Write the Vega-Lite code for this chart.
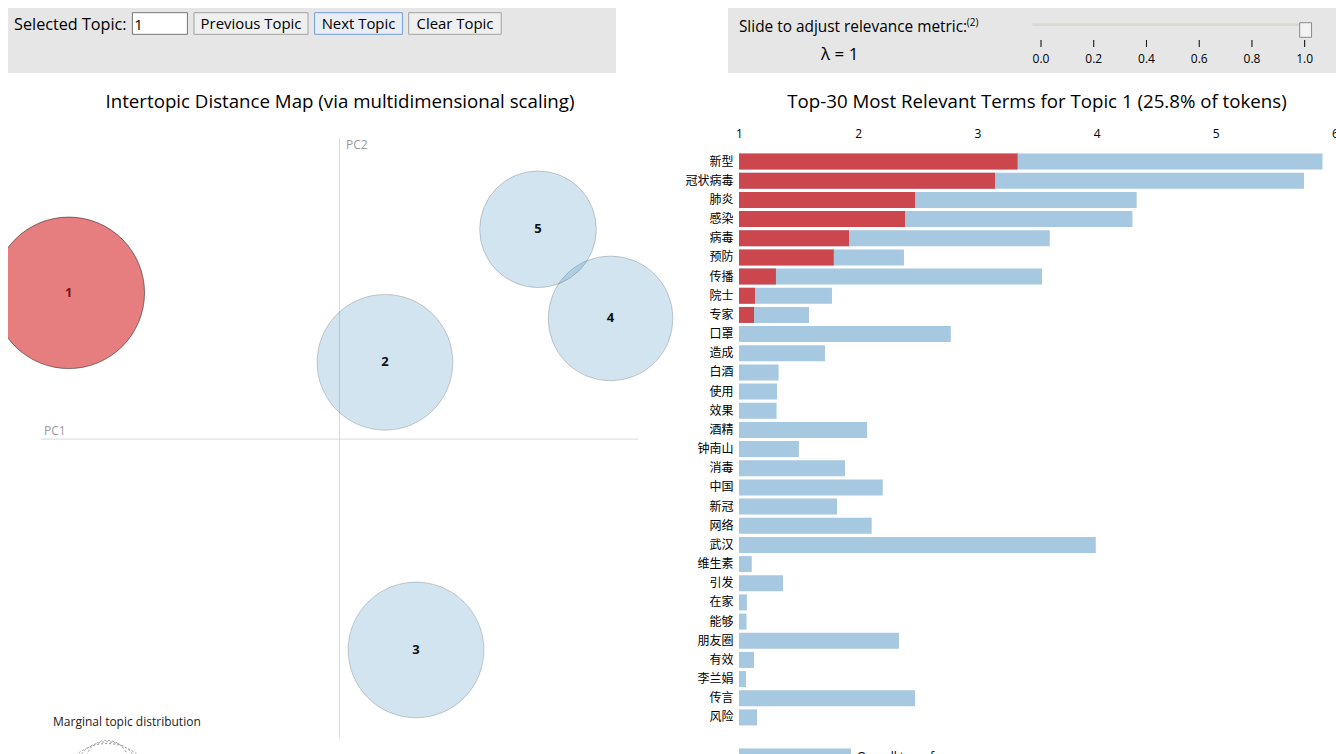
{
  "$schema": "https://vega.github.io/schema/vega-lite/v6.json",
  "padding": {"left": 8, "top": 8, "right": 0, "bottom": 0},
  "background": "white",
  "config": {
    "view": {"stroke": null},
    "font": "Open Sans",
    "title": {"font": "Open Sans", "fontSize": 18.7, "fontWeight": "normal", "color": "#000"}
  },
  "datasets": {
    "topics": [
      {"topic": 1, "x": -0.2721, "y": 0.1470, "freq": 25.8},
      {"topic": 2, "x": 0.0457, "y": 0.0772, "freq": 20.7},
      {"topic": 3, "x": 0.0769, "y": -0.2119, "freq": 20.7},
      {"topic": 4, "x": 0.2724, "y": 0.1213, "freq": 17.5},
      {"topic": 5, "x": 0.1995, "y": 0.2109, "freq": 15.3}
    ],
    "terms": [
      {"term": "新型", "overall": 5.895, "topic": 3.337},
      {"term": "冠状病毒", "overall": 5.740, "topic": 3.148},
      {"term": "肺炎", "overall": 4.336, "topic": 2.477},
      {"term": "感染", "overall": 4.301, "topic": 2.393},
      {"term": "病毒", "overall": 3.607, "topic": 1.923},
      {"term": "预防", "overall": 2.384, "topic": 1.795},
      {"term": "传播", "overall": 3.542, "topic": 1.310},
      {"term": "院士", "overall": 1.780, "topic": 1.134},
      {"term": "专家", "overall": 1.587, "topic": 1.126},
      {"term": "口罩", "overall": 2.777, "topic": null},
      {"term": "造成", "overall": 1.721, "topic": null},
      {"term": "白酒", "overall": 1.332, "topic": null},
      {"term": "使用", "overall": 1.319, "topic": null},
      {"term": "效果", "overall": 1.315, "topic": null},
      {"term": "酒精", "overall": 2.074, "topic": null},
      {"term": "钟南山", "overall": 1.502, "topic": null},
      {"term": "消毒", "overall": 1.889, "topic": null},
      {"term": "中国", "overall": 2.206, "topic": null},
      {"term": "新冠", "overall": 1.822, "topic": null},
      {"term": "网络", "overall": 2.113, "topic": null},
      {"term": "武汉", "overall": 3.993, "topic": null},
      {"term": "维生素", "overall": 1.107, "topic": null},
      {"term": "引发", "overall": 1.369, "topic": null},
      {"term": "在家", "overall": 1.066, "topic": null},
      {"term": "能够", "overall": 1.063, "topic": null},
      {"term": "朋友圈", "overall": 2.342, "topic": null},
      {"term": "有效", "overall": 1.126, "topic": null},
      {"term": "李兰娟", "overall": 1.059, "topic": null},
      {"term": "传言", "overall": 2.477, "topic": null},
      {"term": "风险", "overall": 1.151, "topic": null}
    ]
  },
  "spacing": 20,
  "vconcat": [
    {
      "spacing": 112,
      "hconcat": [
        {
          "width": 608, "height": 65,
          "view": {"fill": "#e6e6e6", "stroke": null},
          "data": {"values": [{"panel": "topic"}]},
          "layer": [
            {"mark": {"type": "rect", "fill": "white", "stroke": "#767676", "strokeWidth": 1},
             "encoding": {
               "x": {"datum": 20.46, "type": "quantitative", "scale": {"domain": [0, 100], "nice": false, "zero": false}, "axis": null},
               "x2": {"datum": 29.51},
               "y": {"datum": 7.2, "type": "quantitative", "scale": {"domain": [0, 100], "reverse": true, "nice": false, "zero": false}, "axis": null},
               "y2": {"datum": 40.5}}},
            {"mark": {"type": "rect", "fill": "#efefef", "stroke": "#a3a3a3", "strokeWidth": 1},
             "encoding": {"x": {"datum": 30.59, "type": "quantitative", "axis": null}, "x2": {"datum": 49.34},
               "y": {"datum": 7.2, "type": "quantitative", "axis": null}, "y2": {"datum": 40.5}}},
            {"mark": {"type": "rect", "fill": "#e9eef5", "stroke": "#6f9fdc", "strokeWidth": 1},
             "encoding": {"x": {"datum": 50.43, "type": "quantitative", "axis": null}, "x2": {"datum": 64.87},
               "y": {"datum": 7.2, "type": "quantitative", "axis": null}, "y2": {"datum": 40.5}}},
            {"mark": {"type": "rect", "fill": "#efefef", "stroke": "#a3a3a3", "strokeWidth": 1},
             "encoding": {"x": {"datum": 65.90, "type": "quantitative", "axis": null}, "x2": {"datum": 81.12},
               "y": {"datum": 7.2, "type": "quantitative", "axis": null}, "y2": {"datum": 40.5}}},
            {"mark": {"type": "text", "align": "left", "baseline": "middle", "fontSize": 16.2, "color": "#000"},
             "encoding": {"x": {"datum": 1.0, "type": "quantitative", "axis": null}, "y": {"datum": 25.5, "type": "quantitative", "axis": null}, "text": {"value": "Selected Topic:"}}},
            {"mark": {"type": "text", "align": "left", "baseline": "middle", "fontSize": 15, "color": "#000"},
             "encoding": {"x": {"datum": 20.75, "type": "quantitative", "axis": null}, "y": {"datum": 25.5, "type": "quantitative", "axis": null}, "text": {"value": "1"}}},
            {"mark": {"type": "text", "align": "center", "baseline": "middle", "fontSize": 14.9, "color": "#000"},
             "encoding": {"x": {"datum": 39.97, "type": "quantitative", "axis": null}, "y": {"datum": 25.5, "type": "quantitative", "axis": null}, "text": {"value": "Previous Topic"}}},
            {"mark": {"type": "text", "align": "center", "baseline": "middle", "fontSize": 14.9, "color": "#000"},
             "encoding": {"x": {"datum": 57.65, "type": "quantitative", "axis": null}, "y": {"datum": 25.5, "type": "quantitative", "axis": null}, "text": {"value": "Next Topic"}}},
            {"mark": {"type": "text", "align": "center", "baseline": "middle", "fontSize": 14.9, "color": "#000"},
             "encoding": {"x": {"datum": 73.51, "type": "quantitative", "axis": null}, "y": {"datum": 25.5, "type": "quantitative", "axis": null}, "text": {"value": "Clear Topic"}}}
          ]
        },
        {
          "width": 608, "height": 65,
          "view": {"fill": "#e6e6e6", "stroke": null},
          "layer": [
            {"data": {"values": [{"lambda": 1}]},
             "mark": {"type": "rect", "fill": "#dbd7d3"},
             "encoding": {
               "x": {"datum": -0.0326, "type": "quantitative", "scale": {"domain": [-1.1870, 1.1187], "nice": false, "zero": false}, "axis": null},
               "x2": {"datum": 1.024},
               "y": {"datum": 23.5, "type": "quantitative", "scale": {"domain": [0, 100], "reverse": true, "nice": false, "zero": false}, "axis": null},
               "y2": {"datum": 27.7}}},
            {"data": {"values": [{"lambda": 1}]},
             "mark": {"type": "rect", "fill": "#f2f2f2", "stroke": "#8a8a8a", "strokeWidth": 1},
             "encoding": {
               "x": {"field": "lambda", "type": "quantitative", "axis": null},
               "xOffset": {"value": -5},
               "x2": {"datum": 1.026},
               "y": {"datum": 22.6, "type": "quantitative", "axis": null},
               "y2": {"datum": 45.1}}},
            {"data": {"values": [{"v": 0}, {"v": 0.2}, {"v": 0.4}, {"v": 0.6}, {"v": 0.8}, {"v": 1.0}]},
             "mark": {"type": "rule", "color": "#000", "strokeWidth": 1},
             "encoding": {
               "x": {"field": "v", "type": "quantitative", "axis": null},
               "y": {"datum": 49.2, "type": "quantitative", "axis": null},
               "y2": {"datum": 60}}},
            {"data": {"values": [{"v": 0}, {"v": 0.2}, {"v": 0.4}, {"v": 0.6}, {"v": 0.8}, {"v": 1.0}]},
             "mark": {"type": "text", "align": "center", "baseline": "middle", "fontSize": 12, "color": "#000"},
             "encoding": {
               "x": {"field": "v", "type": "quantitative", "axis": null},
               "y": {"datum": 79, "type": "quantitative", "axis": null},
               "text": {"field": "v", "type": "quantitative", "format": ".1f"}}},
            {"data": {"values": [{"lambda": 1}]},
             "mark": {"type": "text", "align": "left", "baseline": "middle", "fontSize": 15.4, "color": "#000"},
             "encoding": {"x": {"datum": -1.1456, "type": "quantitative", "axis": null}, "y": {"datum": 28.5, "type": "quantitative", "axis": null}, "text": {"value": "Slide to adjust relevance metric:"}}},
            {"data": {"values": [{"lambda": 1}]},
             "mark": {"type": "text", "align": "left", "baseline": "middle", "fontSize": 10, "color": "#000"},
             "encoding": {"x": {"datum": -0.2814, "type": "quantitative", "axis": null}, "y": {"datum": 23.1, "type": "quantitative", "axis": null}, "text": {"value": "(2)"}}},
            {"data": {"values": [{"lambda": 1}]},
             "mark": {"type": "text", "align": "left", "baseline": "middle", "fontSize": 17, "color": "#000"},
             "encoding": {"x": {"datum": -0.8343, "type": "quantitative", "axis": null}, "y": {"datum": 72.3, "type": "quantitative", "axis": null}, "text": {"value": "λ = 1"}}}
          ]
        }
      ]
    },
    {
      "spacing": 0,
      "resolve": {"scale": {"color": "independent", "size": "independent"}, "legend": {"color": "independent", "size": "independent"}},
      "hconcat": [
        {
          "width": 676, "height": 620,
          "title": {"text": "Intertopic Distance Map (via multidimensional scaling)", "dx": -6, "offset": 26},
          "layer": [
            {"data": {"values": [{"axis": "PC1"}]},
             "mark": {"type": "rule", "color": "#d9d9d9", "strokeWidth": 1},
             "encoding": {
               "x": {"datum": -0.3, "type": "quantitative", "scale": {"domain": [-0.33317, 0.34623], "nice": false, "zero": false}, "axis": null},
               "x2": {"datum": 0.3},
               "y": {"datum": 0, "type": "quantitative", "scale": {"domain": [-0.33457, 0.28855], "nice": false, "zero": false}, "axis": null}}},
            {"data": {"values": [{"axis": "PC2"}]},
             "mark": {"type": "rule", "color": "#d9d9d9", "strokeWidth": 1},
             "encoding": {
               "x": {"datum": 0, "type": "quantitative", "axis": null},
               "y": {"datum": 0.302, "type": "quantitative", "axis": null},
               "y2": {"datum": -0.3}}},
            {"data": {"values": [{"axis": "PC1"}]},
             "mark": {"type": "text", "align": "left", "baseline": "middle", "fontSize": 12, "color": "#999"},
             "encoding": {"x": {"datum": -0.297, "type": "quantitative", "axis": null}, "y": {"datum": 0.0085, "type": "quantitative", "axis": null}, "text": {"field": "axis"}}},
            {"data": {"values": [{"axis": "PC2"}]},
             "mark": {"type": "text", "align": "left", "baseline": "middle", "fontSize": 12, "color": "#999"},
             "encoding": {"x": {"datum": 0.0065, "type": "quantitative", "axis": null}, "y": {"datum": 0.296, "type": "quantitative", "axis": null}, "text": {"field": "axis"}}},
            {"data": {"name": "topics"},
             "mark": {"type": "point", "shape": "circle", "filled": true, "opacity": 1, "stroke": "#000", "strokeWidth": 1, "clip": true},
             "encoding": {
               "x": {"field": "x", "type": "quantitative", "axis": null},
               "y": {"field": "y", "type": "quantitative", "axis": null},
               "size": {"field": "freq", "type": "quantitative", "scale": {"type": "linear", "domain": [0, 100], "range": [0, 89013], "zero": true}, "legend": null},
               "fill": {"condition": {"test": "datum.topic === 1", "value": "#d62728"}, "value": "#1f77b4"},
               "fillOpacity": {"condition": {"test": "datum.topic === 1", "value": 0.6}, "value": 0.2},
               "strokeOpacity": {"condition": {"test": "datum.topic === 1", "value": 0.45}, "value": 0.18}}},
            {"data": {"name": "topics"},
             "mark": {"type": "text", "fontSize": 13, "fontWeight": "bold", "baseline": "middle", "align": "center"},
             "encoding": {
               "x": {"field": "x", "type": "quantitative", "axis": null},
               "y": {"field": "y", "type": "quantitative", "axis": null},
               "text": {"field": "topic"},
               "color": {"condition": {"test": "datum.topic === 1", "value": "#7d1515"}, "value": "#111"}}},
            {"data": {"values": [{"label": "Marginal topic distribution"}]},
             "mark": {"type": "text", "align": "left", "baseline": "middle", "fontSize": 12, "color": "#222"},
             "encoding": {"x": {"datum": -0.2879, "type": "quantitative", "axis": null}, "y": {"datum": -0.2839, "type": "quantitative", "axis": null}, "text": {"field": "label"}}},
            {"data": {"values": [{"pct": 2}]},
             "mark": {"type": "point", "shape": "circle", "filled": false, "opacity": 1, "stroke": "#999", "strokeWidth": 1, "strokeDash": [2, 2], "clip": true},
             "encoding": {"x": {"datum": -0.2337, "type": "quantitative", "axis": null}, "y": {"datum": -0.3239, "type": "quantitative", "axis": null},
               "size": {"field": "pct", "type": "quantitative", "legend": null}}},
            {"data": {"values": [{"pct": 5}]},
             "mark": {"type": "point", "shape": "circle", "filled": false, "opacity": 1, "stroke": "#999", "strokeWidth": 1, "strokeDash": [2, 2], "clip": true},
             "encoding": {"x": {"datum": -0.2337, "type": "quantitative", "axis": null}, "y": {"datum": -0.3378, "type": "quantitative", "axis": null},
               "size": {"field": "pct", "type": "quantitative", "legend": null}}},
            {"data": {"values": [{"pct": 10}]},
             "mark": {"type": "point", "shape": "circle", "filled": false, "opacity": 1, "stroke": "#999", "strokeWidth": 1, "strokeDash": [2, 2], "clip": true},
             "encoding": {"x": {"datum": -0.2337, "type": "quantitative", "axis": null}, "y": {"datum": -0.3534, "type": "quantitative", "axis": null},
               "size": {"field": "pct", "type": "quantitative", "legend": null}}}
          ]
        },
        {
          "width": 596, "height": 575,
          "title": {"text": "Top-30 Most Relevant Terms for Topic 1 (25.8% of tokens)", "offset": 15},
          "data": {"name": "terms"},
          "transform": [{"fold": ["overall", "topic"], "as": ["series", "freq"]}],
          "mark": {"type": "bar"},
          "encoding": {
            "y": {"field": "term", "type": "nominal", "sort": null,
                  "scale": {"paddingInner": 0.165, "paddingOuter": 0.0825},
                  "axis": {"title": null, "domain": false, "ticks": false, "labelPadding": 6, "labelFont": "Noto Sans CJK SC", "labelFontSize": 12, "labelColor": "#000"}},
            "x": {"field": "freq", "type": "quantitative",
                  "scale": {"domain": [1, 6], "nice": false, "zero": false},
                  "axis": {"orient": "top", "values": [1, 2, 3, 4, 5, 6], "labelFlush": false, "domain": false, "ticks": false, "tickSize": 0, "grid": false, "labelPadding": 12, "labelFontSize": 12, "labelColor": "#000", "labelFont": "Open Sans", "title": null}},
            "x2": {"datum": 1},
            "color": {"field": "series", "type": "nominal",
                      "scale": {"domain": ["overall", "topic"], "range": ["#a6c8e1", "#cc474d"]},
                      "legend": {"orient": "none", "legendX": 0, "legendY": 548.6, "direction": "vertical", "title": null,
                                 "symbolType": "M-1,-0.143H1V0.143H-1Z", "symbolSize": 12544, "symbolStrokeWidth": 0, "symbolOpacity": 1,
                                 "labelFontSize": 12, "labelFont": "Open Sans", "labelColor": "#000", "labelOffset": 6,
                                 "labelExpr": "datum.label == 'overall' ? 'Overall term frequency' : 'Estimated term frequency within the selected topic'"}}
          }
        }
      ]
    }
  ]
}
